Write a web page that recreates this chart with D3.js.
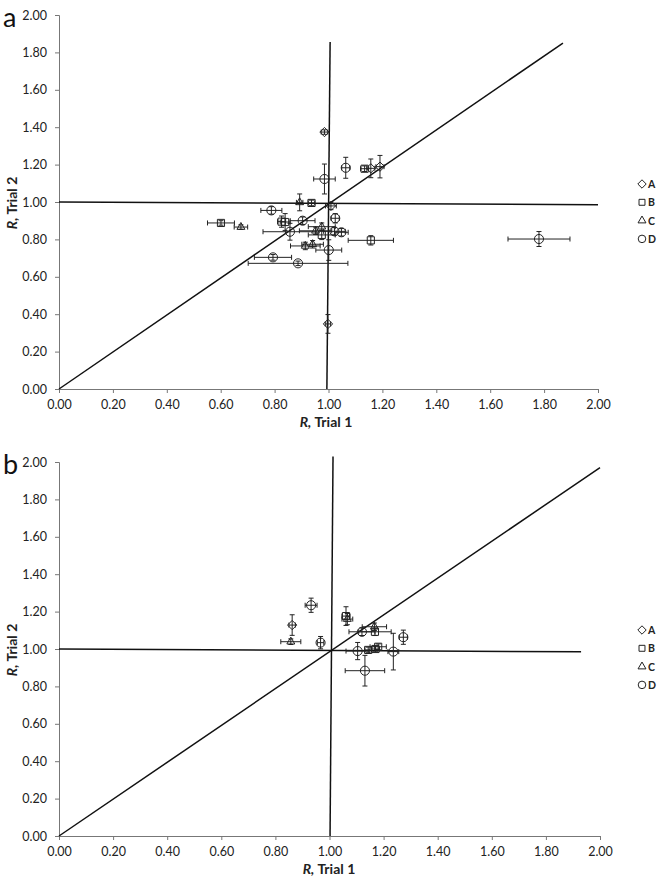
<!DOCTYPE html>
<html>
<head>
<meta charset="utf-8">
<script src="https://cdn.jsdelivr.net/npm/d3@7"></script>
<style>
body{margin:0;background:#fff;}
svg{display:block;}
text{font-family:Lato,"Open Sans",sans-serif;}
</style>
</head>
<body>
<svg id="chart" width="664" height="886"></svg>
<script>
// ---------- DATA ----------
const xTicks = [0,0.2,0.4,0.6,0.8,1.0,1.2,1.4,1.6,1.8,2.0];
const yTicks = [0,0.2,0.4,0.6,0.8,1.0,1.2,1.4,1.6,1.8,2.0];
const groups = ["A","B","C","D"];

// Panel a points
const aX    = [0.985,1.064,1.134,1.157,1.191,0.985,0.893,0.937,1.009,0.788,1.025,0.839,0.826,0.904,0.857,0.952,0.975,0.975,1.022,1.048,1.157,0.914,0.941,1.001,0.794,0.887,0.675,0.601,1.781,0.998];
const aY    = [1.374,1.183,1.178,1.180,1.189,1.123,0.998,0.995,0.979,0.955,0.913,0.893,0.895,0.900,0.841,0.846,0.868,0.824,0.843,0.838,0.795,0.765,0.774,0.743,0.704,0.672,0.866,0.888,0.802,0.348];
const aXerr = [0.012,0.015,0.015,0.015,0.015,0.040,0.012,0.012,0.020,0.039,0.015,0.018,0.015,0.046,0.100,0.060,0.050,0.050,0.040,0.025,0.084,0.055,0.040,0.048,0.069,0.185,0.025,0.050,0.115,0.010];
const aYerr = [0.012,0.056,0.015,0.050,0.060,0.080,0.045,0.015,0.020,0.020,0.025,0.045,0.030,0.020,0.045,0.020,0.020,0.025,0.020,0.020,0.025,0.020,0.020,0.055,0.015,0.012,0.012,0.012,0.040,0.050];
const aGroup= ["A","D","B","A","A","D","C","B","A","D","D","B","B","D","D","C","C","B","D","D","B","C","C","D","D","D","C","B","D","A"];

// Panel b points
const bX    = [0.932,0.862,0.857,0.967,1.061,1.066,1.120,1.168,1.166,1.273,1.104,1.143,1.180,1.236,1.131,1.170];
const bY    = [1.234,1.128,1.039,1.034,1.176,1.160,1.092,1.092,1.119,1.063,0.989,0.995,1.012,0.986,0.884,1.000];
const bXerr = [0.022,0.012,0.037,0.012,0.015,0.020,0.048,0.060,0.045,0.015,0.043,0.012,0.030,0.020,0.073,0.015];
const bYerr = [0.038,0.055,0.015,0.033,0.050,0.030,0.020,0.020,0.020,0.038,0.046,0.015,0.015,0.098,0.082,0.015];
const bGroup= ["D","A","C","D","B","C","D","B","C","D","D","B","B","D","D","B"];

// Reference lines: [x1,y1,x2,y2]
const aRefLines = [[0,1.0,2.0,0.985],[1.006,1.856,0.994,0],[0,0,1.87,1.85]];
const bRefLines = [[0,1.0,1.93,0.985],[1.013,2.03,1.002,0],[0,0,2.0,1.97]];

// ---------- DRAW ----------
const svg = d3.select("#chart");
const symbolType = {A:d3.symbolDiamond2, B:d3.symbolSquare2, C:d3.symbolTriangle2, D:d3.symbolCircle};
const symbolSize = {A:55, B:65, C:45, D:65};
const fmt = d3.format(".2f");

function panel(opt){
  const x = d3.scaleLinear().domain([0,2]).range([opt.x0, opt.x1]);
  const y = d3.scaleLinear().domain([0,2]).range([opt.y0, opt.y1]);
  const g = svg.append("g");

  const xa = g.append("g").attr("transform",`translate(0,${opt.y0})`)
    .call(d3.axisBottom(x).tickValues(xTicks).tickFormat(fmt).tickSize(4).tickPadding(7));
  const ya = g.append("g").attr("transform",`translate(${opt.x0},0)`)
    .call(d3.axisLeft(y).tickValues(yTicks).tickFormat(fmt).tickSize(4).tickPadding(8));
  [xa,ya].forEach(a=>{
    a.select(".domain").attr("stroke","#777").attr("stroke-width",1);
    a.selectAll(".tick line").attr("stroke","#777");
    a.selectAll(".tick text").attr("font-size",12.5).attr("fill","#222").attr("font-family","Lato, sans-serif");
  });

  g.selectAll("line.ref").data(opt.ref).enter().append("line")
    .attr("x1",d=>x(d[0])).attr("y1",d=>y(d[1]))
    .attr("x2",d=>x(d[2])).attr("y2",d=>y(d[3]))
    .attr("stroke","#111").attr("stroke-width",1.5);

  const pts = opt.X.map((v,i)=>({x:v,y:opt.Y[i],ex:opt.EX[i],ey:opt.EY[i],g:opt.G[i]}));
  const cap = 2.5;
  const eb = g.append("g").attr("stroke","#222").attr("stroke-width",1).attr("fill","none");
  pts.forEach(p=>{
    const cx=x(p.x), cy=y(p.y);
    const xl=x(p.x-p.ex), xr=x(p.x+p.ex), yt=y(p.y+p.ey), yb=y(p.y-p.ey);
    eb.append("line").attr("x1",xl).attr("x2",xr).attr("y1",cy).attr("y2",cy);
    eb.append("line").attr("x1",xl).attr("x2",xl).attr("y1",cy-cap).attr("y2",cy+cap);
    eb.append("line").attr("x1",xr).attr("x2",xr).attr("y1",cy-cap).attr("y2",cy+cap);
    eb.append("line").attr("x1",cx).attr("x2",cx).attr("y1",yt).attr("y2",yb);
    eb.append("line").attr("x1",cx-cap).attr("x2",cx+cap).attr("y1",yt).attr("y2",yt);
    eb.append("line").attr("x1",cx-cap).attr("x2",cx+cap).attr("y1",yb).attr("y2",yb);
  });
  g.selectAll("path.pt").data(pts).enter().append("path")
    .attr("transform",d=>`translate(${x(d.x)},${y(d.y)})`)
    .attr("d",d=>d3.symbol().type(symbolType[d.g]).size(symbolSize[d.g])())
    .attr("fill","none").attr("stroke","#222").attr("stroke-width",1);

  const xt = g.append("text").attr("x",opt.xTitleX).attr("y",opt.y0+38)
    .attr("text-anchor","middle").attr("font-size",14).attr("font-weight","bold").attr("fill","#222");
  xt.append("tspan").attr("font-style","italic").text("R,");
  xt.append("tspan").text(" Trial 1");
  const yt = g.append("text").attr("transform",`translate(17,${opt.yTitleY}) rotate(-90)`)
    .attr("text-anchor","middle").attr("font-size",14).attr("font-weight","bold").attr("fill","#222");
  yt.append("tspan").attr("font-style","italic").text("R,");
  yt.append("tspan").text(" Trial 2");

  g.append("text").attr("x",3).attr("y",opt.labelY).attr("font-size",27)
    .attr("font-family","Liberation Sans, Arial, sans-serif").attr("fill","#111").text(opt.label);

  const lg = g.append("g");
  groups.forEach((k,i)=>{
    const ly = opt.legY + i*18.3;
    lg.append("path").attr("transform",`translate(642,${ly})`)
      .attr("d",d3.symbol().type(symbolType[k]).size(45)())
      .attr("fill","none").attr("stroke","#222").attr("stroke-width",1);
    lg.append("text").attr("x",648).attr("y",ly+4).attr("font-size",10.5).attr("font-weight","bold").attr("fill","#222").text(k);
  });
}

panel({x0:59,x1:598,y0:389,y1:15,X:aX,Y:aY,EX:aXerr,EY:aYerr,G:aGroup,ref:aRefLines,
  xTitleX:326,yTitleY:203,label:"a",labelY:27,legY:184});
panel({x0:59,x1:600,y0:836,y1:462,X:bX,Y:bY,EX:bXerr,EY:bYerr,G:bGroup,ref:bRefLines,
  xTitleX:329,yTitleY:650,label:"b",labelY:474,legY:630});
</script>
</body>
</html>
